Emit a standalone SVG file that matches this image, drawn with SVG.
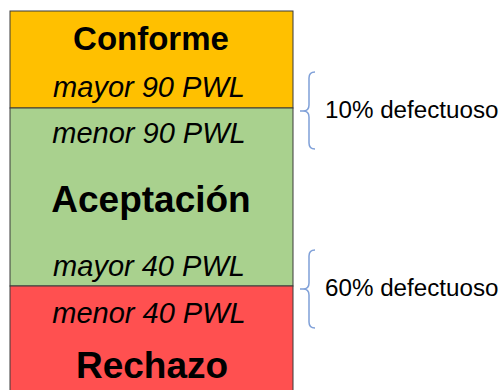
<svg xmlns="http://www.w3.org/2000/svg" width="499" height="390" viewBox="0 0 499 390">
<style>
.t{font-family:"Liberation Sans","Noto Sans",sans-serif;fill:#000;text-anchor:middle}
.b{font-weight:bold;font-size:33px}
.bb{font-weight:bold;font-size:37px}
.i{font-style:italic;font-size:29px}
.l{font-family:"Liberation Sans","Noto Sans",sans-serif;font-size:24.2px;fill:#000}
.br{fill:none;stroke:#7FA0D8;stroke-width:1.5}
</style>
<rect width="499" height="390" fill="#fff"/>
<g id="conforme">
<rect x="10" y="11" width="283" height="97" fill="#FFC000" stroke="#3a3a3a" stroke-width="1"/>
<text class="t b" x="151" y="50">Conforme</text>
<text class="t i" x="149" y="97">mayor 90 PWL</text>
</g>
<g id="aceptacion">
<rect x="10" y="108" width="283" height="178" fill="#A9D18E" stroke="#3a3a3a" stroke-width="1"/>
<text class="t i" x="149" y="143">menor 90 PWL</text>
<text class="t bb" x="151" y="212">Aceptación</text>
<text class="t i" x="149" y="276">mayor 40 PWL</text>
</g>
<g id="rechazo">
<rect x="10" y="286" width="283" height="110" fill="#FF5050" stroke="#3a3a3a" stroke-width="1"/>
<text class="t i" x="149" y="323">menor 40 PWL</text>
<text class="t bb" x="152" y="378">Rechazo</text>
</g>
<g id="connectors">
<path class="br" d="M315,72 Q309,72 309,78 L309,105 Q309,111 303,111 L300,111 M303,111 Q309,111 309,117 L309,143 Q309,149 315,149"/>
<path class="br" d="M315,250 Q309,250 309,256 L309,283 Q309,289 303,289 L300,289 M303,289 Q309,289 309,295 L309,322 Q309,328 315,328"/>
</g>
<g id="label10"><text class="l" x="325" y="118">10% defectuoso</text></g>
<g id="label60"><text class="l" x="325" y="296">60% defectuoso</text></g>
</svg>
